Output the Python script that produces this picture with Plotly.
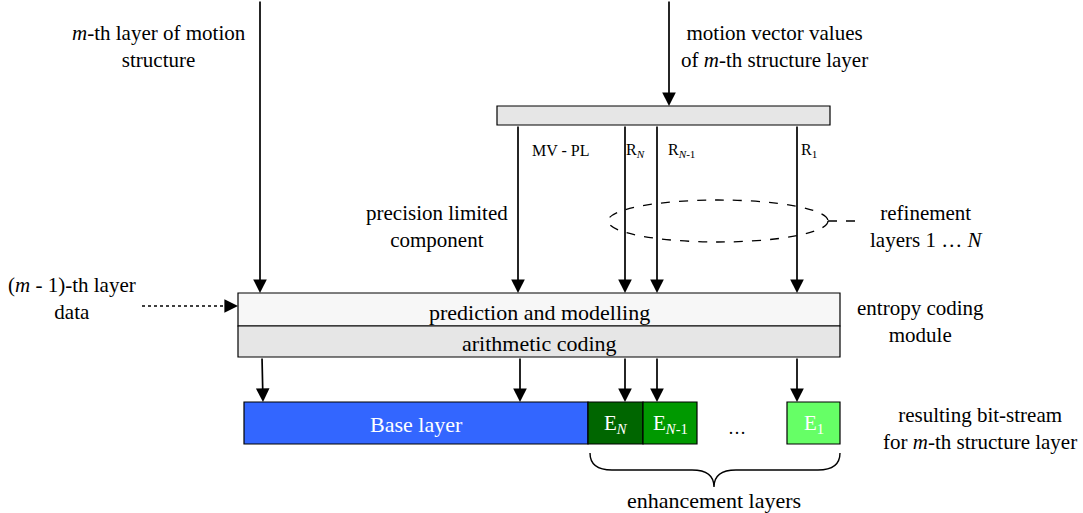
import plotly.graph_objects as go

# ---- diagram content (labels) ----
input_labels = ["<i>m</i>-th layer of motion<br>structure",
                "motion vector values<br>of <i>m</i>-th structure layer",
                "(<i>m</i> - 1)-th layer<br>data"]
stream_labels = ["MV - PL", "R<sub><i>N</i></sub>", "R<sub><i>N</i>-1</sub>", "R<sub>1</sub>"]
module_rows = ["prediction and modelling", "arithmetic coding"]
segment_names = ["Base layer", "E<sub><i>N</i></sub>", "E<sub><i>N</i>-1</sub>", "E<sub>1</sub>"]
segment_colors = ["#3366FF", "#006600", "#009900", "#66FF66"]
side_labels = ["precision limited<br>component",
               "refinement<br>layers 1 \u2026 <i>N</i>",
               "entropy coding<br>module",
               "resulting bit-stream<br>for <i>m</i>-th structure layer",
               "enhancement layers"]

FONT = "Liberation Serif, Times New Roman, Times, serif"

# ---- geometry (pixel coordinates) ----
W, H = 1083, 513
bar = dict(x0=497, x1=830, y0=106, y1=125)
box_x0, box_x1 = 238, 840
box_y = [293, 326, 357]
seg_x = [(244, 588), (588, 643), (643, 697), (787, 840)]
seg_y0, seg_y1 = 402, 444
stream_x = [518, 625, 657, 797]

shapes = []
annots = []

def arrow(x_tail, y_tail, x_tip, y_tip):
    annots.append(dict(x=x_tip, y=y_tip, ax=x_tail, ay=y_tail, xref="x", yref="y",
                       axref="x", ayref="y", text="", showarrow=True,
                       arrowhead=2, arrowsize=1.6, arrowwidth=1.7,
                       arrowcolor="black", standoff=0, startstandoff=0))

def line(x0, y0, x1, y1, dash="solid", w=1.6):
    shapes.append(dict(type="line", x0=x0, y0=y0, x1=x1, y1=y1, xref="x", yref="y",
                       line=dict(color="black", width=w, dash=dash)))

def text(x, y, s, size=21, color="black"):
    annots.append(dict(x=x, y=y, xref="x", yref="y", text=s, showarrow=False,
                       xanchor="center", yanchor="middle",
                       font=dict(family=FONT, size=size, color=color)))

# grey distribution bar
shapes.append(dict(type="rect", xref="x", yref="y", **bar, fillcolor="#E6E6E6",
                   line=dict(color="black", width=1.2)))
# entropy coding module (two rows)
shapes.append(dict(type="rect", xref="x", yref="y", x0=box_x0, x1=box_x1, y0=box_y[0], y1=box_y[1],
                   fillcolor="#F7F7F7", line=dict(color="black", width=1.2)))
shapes.append(dict(type="rect", xref="x", yref="y", x0=box_x0, x1=box_x1, y0=box_y[1], y1=box_y[2],
                   fillcolor="#E6E6E6", line=dict(color="black", width=1.2)))
# bit-stream segments
for (x0, x1), c, name in zip(seg_x, segment_colors, segment_names):
    shapes.append(dict(type="rect", xref="x", yref="y", x0=x0, x1=x1, y0=seg_y0, y1=seg_y1,
                       fillcolor=c, line=dict(color="black", width=1.2)))
    text((x0 + x1) / 2, 424, name, size=22 if name == "Base layer" else 21, color="white")

# input arrows
arrow(260, 0, 260, box_y[0])
arrow(669, 0, 669, bar["y0"])
# streams from bar to module
for sx in stream_x:
    arrow(sx, bar["y1"], sx, box_y[0])
# module to bit-stream
arrow(262, box_y[2], 263, seg_y0)
arrow(520, box_y[2], 520, seg_y0)
for sx in stream_x[1:]:
    arrow(sx, box_y[2], sx, seg_y0)

# dotted input from previous layer
line(142, 306, 230, 306, dash="dot", w=1.6)
arrow(226, 306, 238, 306)

# dashed ellipse + callout
shapes.append(dict(type="circle", xref="x", yref="y", x0=608, x1=828, y0=200, y1=242,
                   line=dict(color="black", width=1.3, dash="dash")))
line(828, 221, 862, 221, dash="dash", w=1.3)

# brace
shapes.append(dict(type="path", xref="x", yref="y",
                   path="M 590 453 Q 590 470 612 470 L 692 470 Q 714 470 714 487 "
                        "Q 714 470 736 470 L 818 470 Q 840 470 840 453",
                   line=dict(color="black", width=1.4)))

# texts
text(159, 46, input_labels[0])
text(774, 46, input_labels[1])
text(72, 298, input_labels[2])
label_pos = [(561, 150), (635, 150), (681, 150), (809, 150)]
for (lx, ly), s in zip(label_pos, stream_labels):
    text(lx, ly, s, size=16)
text(539, 312, module_rows[0], size=22)
text(539, 343, module_rows[1], size=22)
text(437, 226, side_labels[0])
text(926, 226, side_labels[1])
text(920, 321, side_labels[2])
text(980, 428, side_labels[3])
text(714, 500, side_labels[4], size=22)
text(737, 428, "\u2026", size=18)

fig = go.Figure()
fig.update_layout(width=W, height=H, margin=dict(l=0, r=0, t=0, b=0),
                  paper_bgcolor="white", plot_bgcolor="white",
                  font=dict(family=FONT),
                  xaxis=dict(range=[0, W], visible=False, fixedrange=True),
                  yaxis=dict(range=[H, 0], visible=False, fixedrange=True),
                  shapes=shapes, annotations=annots, showlegend=False)
fig.write_html("out.html", config={"displayModeBar": False},
               post_script="document.body.style.margin='0';document.body.style.overflow='hidden';")
